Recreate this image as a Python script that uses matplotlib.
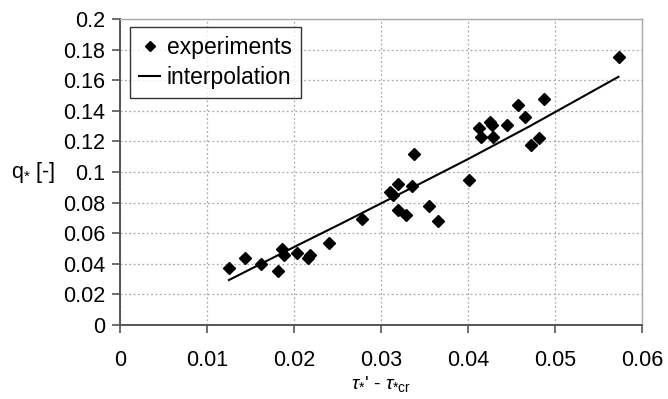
import matplotlib
matplotlib.use('Agg')
import matplotlib.pyplot as plt

plt.rcParams['font.family'] = ['Liberation Sans', 'DejaVu Sans']
plt.rcParams['mathtext.fontset'] = 'custom'
plt.rcParams['mathtext.rm'] = 'Liberation Sans'
plt.rcParams['mathtext.it'] = 'Liberation Sans:italic'

# measured points (tau*' - tau*cr, q*)
exp_x = [0.0125, 0.0143, 0.0162, 0.0181, 0.0186, 0.0188, 0.0203, 0.0216, 0.0218,
         0.0240, 0.0278, 0.0310, 0.0314, 0.0319, 0.0320, 0.0329, 0.0336, 0.0338,
         0.0355, 0.0365, 0.0401, 0.0413, 0.0415, 0.0425, 0.0427, 0.0429, 0.0445,
         0.0458, 0.0466, 0.0472, 0.0482, 0.0487, 0.0574]
exp_y = [0.037, 0.0435, 0.040, 0.035, 0.050, 0.046, 0.047, 0.044, 0.046,
         0.0535, 0.069, 0.087, 0.085, 0.0925, 0.075, 0.072, 0.091, 0.112,
         0.078, 0.068, 0.095, 0.129, 0.123, 0.133, 0.131, 0.123, 0.131,
         0.144, 0.136, 0.118, 0.122, 0.148, 0.175]

# interpolation curve
fit_x = [0.0125, 0.0207, 0.0253, 0.0345, 0.0400, 0.0471, 0.0573]
fit_y = [0.0294, 0.0530, 0.0660, 0.0925, 0.1085, 0.1300, 0.1623]

xticks = [0, 0.01, 0.02, 0.03, 0.04, 0.05, 0.06]
yticks = [0, 0.02, 0.04, 0.06, 0.08, 0.1, 0.12, 0.14, 0.16, 0.18, 0.2]

fig = plt.figure(figsize=(6.68, 3.99), dpi=100)
ax = fig.add_axes([0.18, 0.1855, 0.781, 0.7665])

ax.plot(exp_x, exp_y, linestyle='none', marker='D', markersize=6.5,
        color='black', label='experiments', zorder=3)
ax.plot(fit_x, fit_y, color='black', linewidth=1.5, label='interpolation', zorder=2)

ax.set_xlim(0, 0.06)
ax.set_ylim(0, 0.2)
ax.set_xticks(xticks)
ax.set_yticks(yticks)
ax.set_xticklabels(['0', '0.01', '0.02', '0.03', '0.04', '0.05', '0.06'])
ax.set_yticklabels(['0', '0.02', '0.04', '0.06', '0.08', '0.1', '0.12', '0.14',
                    '0.16', '0.18', '0.2'])
ax.tick_params(axis='both', labelsize=15.5, color='#555555', width=1.2)
ax.tick_params(axis='x', length=6, pad=12)
ax.tick_params(axis='y', length=6, pad=5)

ax.grid(True, color='#aaaaaa', linestyle=(0, (1.5, 2)), linewidth=0.9)
ax.set_axisbelow(True)

for side in ['left', 'bottom']:
    ax.spines[side].set_color('#555555')
    ax.spines[side].set_linewidth(1.4)
for side in ['top', 'right']:
    ax.spines[side].set_color('#aaaaaa')
    ax.spines[side].set_linewidth(1.0)

ax.set_ylabel(r'q$_{*}$ [-]', fontsize=15.5, rotation=0, va='center', ha='left')
ax.yaxis.set_label_coords(-0.21, 0.5)
ax.set_xlabel(r"$\tau_{*}$' - $\tau_{*\mathrm{cr}}$", fontsize=14, labelpad=2)

leg = ax.legend(loc='upper left', bbox_to_anchor=(0.019, 0.975), borderaxespad=0,
                fontsize=16.5, frameon=True, fancybox=False, handlelength=0.9,
                handletextpad=0.3, borderpad=0.4, labelspacing=0.3, markerscale=0.75)
leg.get_frame().set_edgecolor('black')
leg.get_frame().set_linewidth(1.0)

fig.savefig('out.png', dpi=100)
